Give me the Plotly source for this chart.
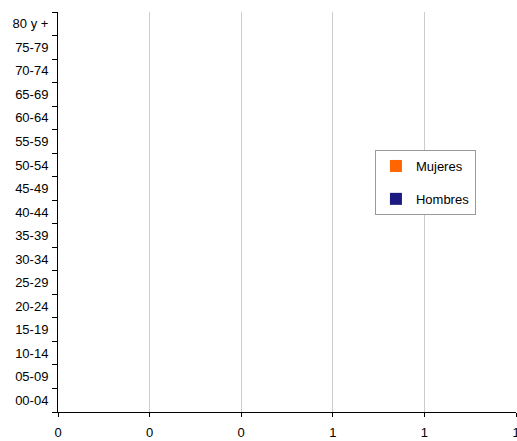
import plotly.graph_objects as go

grupos = ["00-04", "05-09", "10-14", "15-19", "20-24", "25-29", "30-34", "35-39",
          "40-44", "45-49", "50-54", "55-59", "60-64", "65-69", "70-74", "75-79", "80 y +"]
mujeres = [0] * 17
hombres = [0] * 17
x_ticks = [0, 0.2, 0.4, 0.6, 0.8, 1.0]

fig = go.Figure()
fig.add_trace(go.Bar(y=grupos, x=mujeres, orientation="h", name="Mujeres",
                     legendgroup="m",
                     marker=dict(color="#FF6600", line=dict(width=0))))
fig.add_trace(go.Bar(y=grupos, x=hombres, orientation="h", name="Hombres",
                     legendgroup="h",
                     marker=dict(color="#1A1A80", line=dict(width=0))))

fig.update_layout(
    width=517, height=441,
    margin=dict(l=58, r=1, t=12, b=29),
    paper_bgcolor="white", plot_bgcolor="white",
    font=dict(family="Liberation Sans, Arial, sans-serif", size=13, color="black"),
    barmode="relative",
    showlegend=True,
    legend=dict(x=0.692, y=0.655, xanchor="left", yanchor="top",
                bgcolor="white", bordercolor="#999999", borderwidth=1,
                traceorder="grouped", font=dict(size=13), tracegroupgap=13,
                itemwidth=30),
)
fig.update_xaxes(range=[0, 1], tickvals=x_ticks, tickformat=".0f",
                 showgrid=True, gridcolor="#CCCCCC", gridwidth=1,
                 showline=True, linecolor="black", linewidth=1,
                 ticks="outside", ticklen=4, tickcolor="black",
                 ticklabeloverflow="allow", ticklabelstandoff=4,
                 zeroline=False, fixedrange=True, automargin=False)
fig.update_yaxes(type="category", categoryorder="array", categoryarray=grupos,
                 tickson="boundaries", ticks="outside", ticklen=5, tickcolor="black",
                 showline=True, linecolor="black", linewidth=1,
                 showgrid=False, zeroline=False, fixedrange=True,
                 range=[-0.5, 16.5], automargin=False, ticklabelstandoff=6)

fig.write_html("out.html", config={"displayModeBar": False, "staticPlot": True},
               post_script="document.body.style.margin='0';document.body.style.overflow='hidden';")
